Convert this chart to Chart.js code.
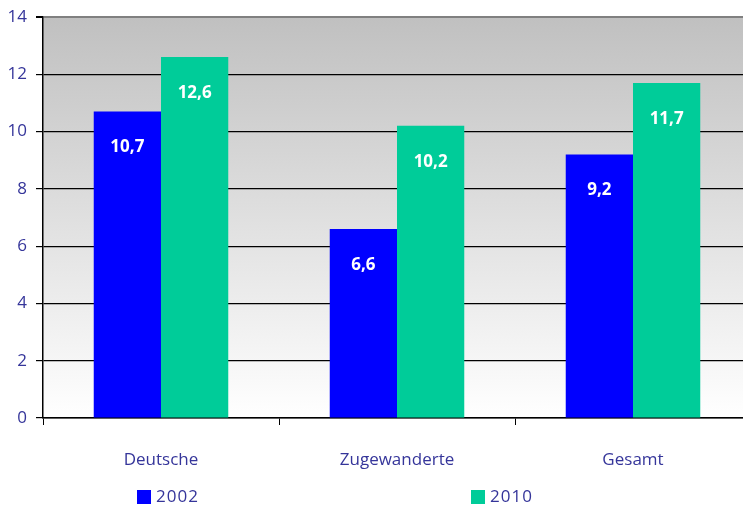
<!DOCTYPE html>
<html>
<head>
<meta charset="utf-8">
<script src="https://cdn.jsdelivr.net/npm/chart.js@4/dist/chart.umd.min.js"></script>
<style>
html,body{margin:0;padding:0;background:#fff;overflow:hidden;}
#clip{width:743px;height:509px;overflow:hidden;position:relative;}
#wrap{width:751px;height:509px;position:relative;}
</style>
</head>
<body>
<div id="clip"><div id="wrap"><canvas id="c"></canvas></div></div>
<script>
const categories = ["Deutsche", "Zugewanderte", "Gesamt"];
const seriesLabels = ["2002", "2010"];
const values2002 = [10.7, 6.6, 9.2];
const values2010 = [12.6, 10.2, 11.7];
const yTicks = [0, 2, 4, 6, 8, 10, 12, 14];

const TEXT = '#35359a';
const FONT = '"Open Sans", "Lato", sans-serif';

const bgPlugin = {
  id: 'bg',
  beforeDraw(chart) {
    const {ctx, chartArea: a} = chart;
    const g = ctx.createLinearGradient(0, a.top, 0, a.bottom);
    g.addColorStop(0, '#c0c0c0');
    g.addColorStop(1, '#ffffff');
    ctx.save();
    ctx.fillStyle = g;
    ctx.fillRect(a.left, a.top, a.right - a.left, a.bottom - a.top);
    ctx.restore();
  }
};

const labelPlugin = {
  id: 'vals',
  afterDatasetsDraw(chart) {
    const {ctx} = chart;
    ctx.save();
    ctx.fillStyle = '#ffffff';
    ctx.font = 'bold 17px ' + FONT;
    ctx.textAlign = 'center';
    ctx.textBaseline = 'middle';
    chart.data.datasets.forEach((ds, di) => {
      chart.getDatasetMeta(di).data.forEach((bar, i) => {
        const v = ds.data[i];
        ctx.fillText(v.toFixed(1).replace('.', ','), bar.x, bar.y + 36);
      });
    });
    ctx.restore();
  }
};

const legendPlugin = {
  id: 'customLegend',
  afterDraw(chart) {
    const {ctx} = chart;
    const xs = [137, 471];
    const y = 497;
    ctx.save();
    ctx.font = '17px ' + FONT;
    ctx.textBaseline = 'middle';
    ctx.textAlign = 'left';
    try { ctx.letterSpacing = '1px'; } catch (e) {}
    chart.data.datasets.forEach((ds, i) => {
      ctx.fillStyle = ds.backgroundColor;
      ctx.fillRect(xs[i], y - 7, 14, 14);
      ctx.fillStyle = TEXT;
      ctx.fillText(ds.label, xs[i] + 19, y);
    });
    ctx.restore();
  }
};

new Chart(document.getElementById('c'), {
  type: 'bar',
  data: {
    labels: categories,
    datasets: [
      {label: seriesLabels[0], data: values2002, backgroundColor: '#0000ff'},
      {label: seriesLabels[1], data: values2010, backgroundColor: '#00cc99'}
    ]
  },
  options: {
    responsive: true,
    maintainAspectRatio: false,
    animation: false,
    layout: {padding: {top: 17, right: 0, left: 0, bottom: 0}},
    datasets: {bar: {barPercentage: 1.0, categoryPercentage: 0.57}},
    plugins: {legend: {display: false}, tooltip: {enabled: false}},
    scales: {
      x: {
        grid: {display: true, drawOnChartArea: false, offset: true, color: '#000', tickLength: 7, tickWidth: 1},
        border: {display: true, color: '#000', width: 1.5},
        ticks: {color: TEXT, font: {family: FONT, size: 17}, padding: 25},
        afterFit(s) { s.height = 91; }
      },
      y: {
        min: 0, max: 14,
        afterBuildTicks(s) { s.ticks = yTicks.map(v => ({value: v})); },
        grid: {
          color: ctx => ctx.tick && ctx.tick.value === 14 ? '#808080' : '#000',
          lineWidth: ctx => ctx.tick && ctx.tick.value === 14 ? 2 : 1.2,
          tickColor: '#000', tickLength: 7, drawTicks: true
        },
        border: {display: true, color: '#000', width: 1.5},
        ticks: {color: TEXT, font: {family: FONT, size: 17}, padding: 9},
        afterFit(s) { s.width = 43; s.paddingTop = 0; s.paddingBottom = 0; }
      }
    }
  },
  plugins: [bgPlugin, labelPlugin, legendPlugin]
});
</script>
</body>
</html>
